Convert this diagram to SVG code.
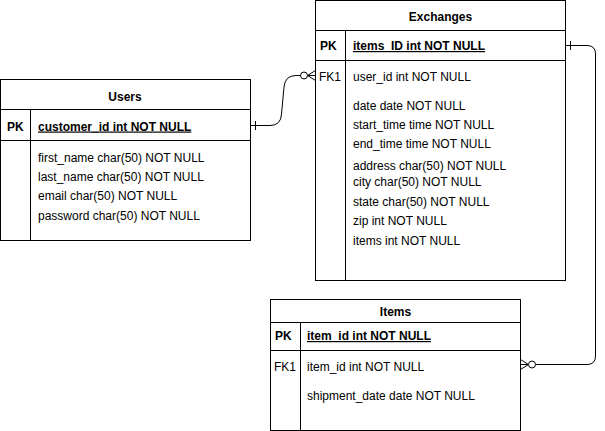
<svg xmlns="http://www.w3.org/2000/svg" width="605" height="431" viewBox="0 0 605 431">
<style>
.box{fill:#fff;stroke:#000;stroke-width:1}
.ln{fill:none;stroke:#000;stroke-width:1}
text{font-family:"Liberation Sans",Arial,Helvetica,sans-serif;font-size:12px;fill:#000}
.b{font-weight:bold}
.t{font-weight:bold;text-anchor:middle}
.u{font-weight:bold;text-decoration:underline}
.conn{fill:none;stroke:#000;stroke-width:1}
</style>
<defs>
<marker id="one" markerUnits="userSpaceOnUse" viewBox="0 -6 12 12" refX="0" refY="0" markerWidth="12" markerHeight="12" orient="auto">
<path d="M5,-4.5 V4.5" stroke="#000" stroke-width="1" fill="none"/>
</marker>
<marker id="zeroMany" markerUnits="userSpaceOnUse" viewBox="0 -6 20 12" refX="20" refY="0" markerWidth="20" markerHeight="12" orient="auto">
<path d="M12,0 L20,-5 M12,0 L20,0 M12,0 L20,5" stroke="#000" stroke-width="1" fill="none"/>
<circle cx="8.5" cy="0" r="3.5" fill="#fff" stroke="#000" stroke-width="1"/>
</marker>
</defs>

<g id="connectors">
<path class="conn" d="M250.5,125.5 H270 Q281,125.5 281.5,114 L284,87 Q285,75.5 296,75.5 H315.5" marker-start="url(#one)" marker-end="url(#zeroMany)"/>
<path class="conn" d="M565.5,45.5 H587 Q595.5,45.5 595.5,54 V356 Q595.5,364.5 587,364.5 H520.5" marker-start="url(#one)" marker-end="url(#zeroMany)"/>
</g>

<g id="users">
<rect class="box" x="0.5" y="79.5" width="250" height="161"/>
<path class="ln" d="M0.5,109.5 H250.5 M0.5,140.5 H250.5 M30.5,109.5 V240.5"/>
<text class="t" x="125" y="100.5">Users</text>
<text class="b" x="7" y="130.5">PK</text>
<text class="u" x="38" y="130.5">customer_id int NOT NULL</text>
<text x="38" y="161.5">first_name char(50) NOT NULL</text>
<text x="38" y="181">last_name char(50) NOT NULL</text>
<text x="38" y="200">email char(50) NOT NULL</text>
<text x="38" y="219.5">password char(50) NOT NULL</text>
</g>

<g id="exchanges">
<rect class="box" x="315.5" y="0.5" width="250" height="280"/>
<path class="ln" d="M315.5,30.5 H565.5 M315.5,60.5 H565.5 M345.5,30.5 V280.5"/>
<text class="t" x="440.5" y="20.5">Exchanges</text>
<text class="b" x="320" y="50">PK</text>
<text class="u" x="353" y="50">items_ID int NOT NULL</text>
<text x="319" y="81">FK1</text>
<text x="353" y="81">user_id int NOT NULL</text>
<text x="353" y="110">date date NOT NULL</text>
<text x="353" y="128.5">start_time time NOT NULL</text>
<text x="353" y="148">end_time time NOT NULL</text>
<text x="353" y="169.5">address char(50) NOT NULL</text>
<text x="353" y="185.5">city char(50) NOT NULL</text>
<text x="353" y="206">state char(50) NOT NULL</text>
<text x="353" y="225">zip int NOT NULL</text>
<text x="353" y="245">items int NOT NULL</text>
</g>

<g id="items">
<rect class="box" x="270.5" y="299.5" width="250" height="131"/>
<path class="ln" d="M270.5,322.5 H520.5 M270.5,350.5 H520.5 M300.5,322.5 V430.5"/>
<text class="t" x="395.5" y="315.5">Items</text>
<text class="b" x="275" y="340">PK</text>
<text class="u" x="307" y="340">item_id int NOT NULL</text>
<text x="274" y="370.5">FK1</text>
<text x="307" y="370.5">item_id int NOT NULL</text>
<text x="307" y="400">shipment_date date NOT NULL</text>
</g>
</svg>
